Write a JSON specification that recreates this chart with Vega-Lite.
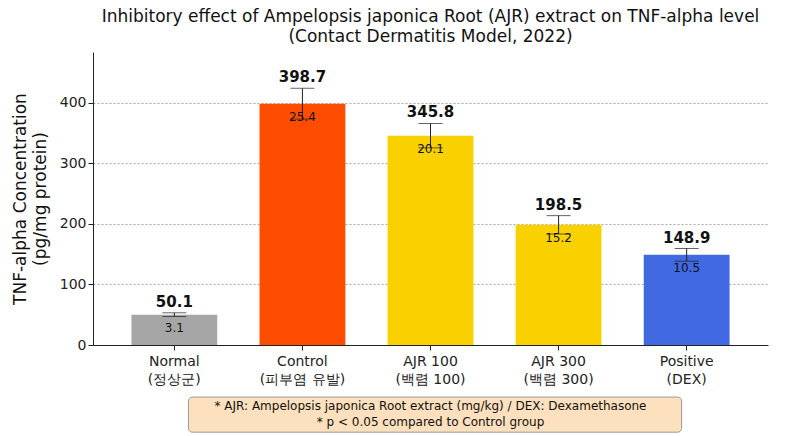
{
  "$schema": "https://vega.github.io/schema/vega-lite/v6.json",
  "autosize": {"type": "none"},
  "padding": {"left": 93, "top": 52, "right": 32, "bottom": 91},
  "width": 675,
  "height": 293,
  "background": "white",
  "title": {
    "text": ["Inhibitory effect of Ampelopsis japonica Root (AJR) extract on TNF-alpha level", "(Contact Dermatitis Model, 2022)"],
    "fontSize": 17, "fontWeight": "normal", "font": "DejaVu Sans", "color": "#111", "offset": 6, "lineHeight": 20
  },
  "data": {"values": [
    {"group": "Normal|(정상군)", "mean": 50.1, "sd": 3.1, "lo": 47.0, "hi": 53.2, "color": "#a6a6a6"},
    {"group": "Control|(피부염 유발)", "mean": 398.7, "sd": 25.4, "lo": 373.3, "hi": 424.1, "color": "#ff4d00"},
    {"group": "AJR 100|(백렴 100)", "mean": 345.8, "sd": 20.1, "lo": 325.7, "hi": 365.9, "color": "#f9d100"},
    {"group": "AJR 300|(백렴 300)", "mean": 198.5, "sd": 15.2, "lo": 183.3, "hi": 213.7, "color": "#f9d100"},
    {"group": "Positive|(DEX)", "mean": 148.9, "sd": 10.5, "lo": 138.4, "hi": 159.4, "color": "#4169e1"}
  ]},
  "encoding": {
    "x": {
      "field": "group", "type": "nominal", "sort": null,
      "scale": {"paddingInner": 0.33, "paddingOuter": 0.3},
      "axis": {"title": null, "labelAngle": 0, "labelExpr": "split(datum.label, '|')", "labelFontSize": 14, "labelFont": "DejaVu Sans", "labelColor": "#222", "labelLineHeight": 18, "domainColor": "#222", "tickColor": "#222", "labelPadding": 4}
    }
  },
  "layer": [
    {
      "mark": {"type": "bar"},
      "encoding": {
        "y": {
          "field": "mean", "type": "quantitative", "scale": {"domain": [0, 484], "nice": false},
          "title": ["TNF-alpha Concentration", "(pg/mg protein)"],
          "axis": {"titleFontSize": 17, "titleFontWeight": "normal", "titleFont": "DejaVu Sans", "titleColor": "#111", "values": [0, 100, 200, 300, 400], "labelFontSize": 14, "labelFont": "DejaVu Sans", "labelColor": "#222", "gridDash": [2, 2], "gridColor": "#aaa", "domainColor": "#222", "tickColor": "#222", "titlePadding": 10, "titleLineHeight": 20}
        },
        "color": {"field": "color", "type": "nominal", "scale": null}
      }
    },
    {
      "mark": {"type": "errorbar", "ticks": {"size": 24, "color": "#222"}, "rule": {"color": "#222"}},
      "encoding": {
        "y": {"field": "lo", "type": "quantitative", "title": ["TNF-alpha Concentration", "(pg/mg protein)"]},
        "y2": {"field": "hi"}
      }
    },
    {
      "mark": {"type": "text", "baseline": "bottom", "dy": -3, "fontSize": 15, "fontWeight": "bold", "font": "DejaVu Sans", "color": "#111"},
      "encoding": {
        "y": {"field": "hi", "type": "quantitative", "title": ["TNF-alpha Concentration", "(pg/mg protein)"]},
        "text": {"field": "mean", "type": "quantitative", "format": ".1f"}
      }
    },
    {
      "mark": {"type": "text", "baseline": "top", "dy": 8, "fontSize": 12, "font": "DejaVu Sans", "color": "#111"},
      "encoding": {
        "y": {"field": "mean", "type": "quantitative", "title": ["TNF-alpha Concentration", "(pg/mg protein)"]},
        "text": {"field": "sd", "type": "quantitative", "format": ".1f"}
      }
    },
    {
      "data": {"values": [{"x": "AJR 100|(백렴 100)", "x0": "Control|(피부염 유발)", "x1": "AJR 300|(백렴 300)", "top": -86, "bottom": -144, "l1": -100, "l2": -127}]},
      "layer": [
        {
          "mark": {"type": "rect", "clip": false, "fill": "#fde0bd", "stroke": "#999", "cornerRadius": 4, "xOffset": -114, "x2Offset": 123},
          "encoding": {
            "x": {"field": "x0", "type": "nominal", "sort": null, "bandPosition": 0.5},
            "x2": {"field": "x1", "bandPosition": 0.5},
            "y": {"field": "top", "type": "quantitative", "title": ["TNF-alpha Concentration", "(pg/mg protein)"]},
            "y2": {"field": "bottom"}
          }
        },
        {
          "mark": {"type": "text", "clip": false, "fontSize": 12, "font": "DejaVu Sans", "color": "#111", "text": "* AJR: Ampelopsis japonica Root extract (mg/kg) / DEX: Dexamethasone"},
          "encoding": {
            "x": {"field": "x", "type": "nominal", "sort": null},
            "y": {"field": "l1", "type": "quantitative", "title": ["TNF-alpha Concentration", "(pg/mg protein)"]}
          }
        },
        {
          "mark": {"type": "text", "clip": false, "fontSize": 12, "font": "DejaVu Sans", "color": "#111", "text": "* p < 0.05 compared to Control group"},
          "encoding": {
            "x": {"field": "x", "type": "nominal", "sort": null},
            "y": {"field": "l2", "type": "quantitative", "title": ["TNF-alpha Concentration", "(pg/mg protein)"]}
          }
        }
      ]
    }
  ],
  "config": {"view": {"stroke": null}, "axisX": {"grid": false}, "axisY": {"gridDash": [2, 2]}}
}
